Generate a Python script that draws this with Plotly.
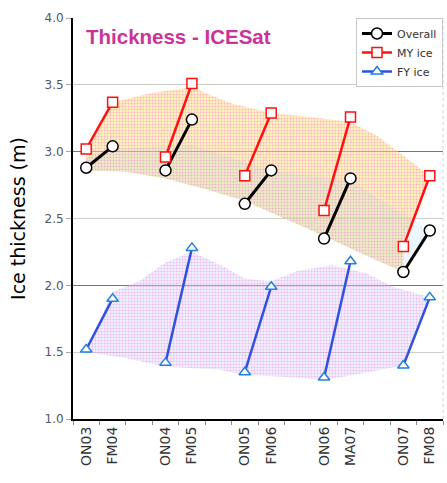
import plotly.graph_objects as go

# ---- data ----
categories = ["ON03", "FM04", "", "ON04", "FM05", "", "ON05", "FM06", "", "ON06", "MA07", "", "ON07", "FM08"]
overall = [2.88, 3.04, None, 2.86, 3.24, None, 2.61, 2.86, None, 2.35, 2.80, None, 2.10, 2.41]
my_ice = [3.02, 3.37, None, 2.96, 3.51, None, 2.82, 3.29, None, 2.56, 3.26, None, 2.29, 2.82]
fy_ice = [1.52, 1.90, None, 1.42, 2.28, None, 1.35, 1.99, None, 1.31, 2.18, None, 1.40, 1.91]

# shaded envelopes: position index, value
my_band_x = [0, 1, 2.5, 4, 5.5, 7, 8.5, 10, 11, 13, 12, 12, 10.5, 9, 7.5, 6, 4.5, 3, 1.5, 0]
my_band_y = [3.02, 3.37, 3.44, 3.48, 3.36, 3.29, 3.26, 3.22, 3.12, 2.82, 2.29, 2.10, 2.23, 2.37, 2.50, 2.63, 2.72, 2.80, 2.85, 2.86]
ov_band_x = [0, 1, 4, 7, 10, 13, 12, 10.5, 9, 7.5, 6, 4.5, 3, 1.5, 0]
ov_band_y = [2.95, 3.02, 3.05, 2.86, 2.78, 2.41, 2.10, 2.23, 2.37, 2.50, 2.63, 2.72, 2.80, 2.85, 2.86]
fy_band_x = [0, 1, 2, 3, 4, 5.2, 6, 7, 8, 9.3, 10.6, 11.6, 13, 12, 10.4, 9, 8, 6, 5, 3, 1.4, 0]
fy_band_y = [1.52, 1.95, 2.03, 2.17, 2.25, 2.14, 2.05, 2.03, 2.11, 2.15, 2.09, 1.99, 1.91, 1.40, 1.34, 1.29, 1.31, 1.33, 1.37, 1.39, 1.46, 1.50]

y_ticks = [1.0, 1.5, 2.0, 2.5, 3.0, 3.5, 4.0]

xs = list(range(len(categories)))
label_x = [i for i, c in enumerate(categories) if c]
label_t = [c for c in categories if c]

fig = go.Figure()

fig.add_trace(go.Scatter(x=fy_band_x, y=fy_band_y, fill="toself", mode="none", showlegend=False,
                         hoverinfo="skip",
                         fillpattern=dict(shape=".", fgcolor="#f080d8", bgcolor="rgba(205,220,255,0.35)",
                                          size=3, solidity=0.35)))
fig.add_trace(go.Scatter(x=my_band_x, y=my_band_y, fill="toself", mode="none", showlegend=False,
                         hoverinfo="skip",
                         fillpattern=dict(shape=".", fgcolor="#ff70d0", bgcolor="rgba(255,235,120,0.5)",
                                          size=3, solidity=0.35)))
fig.add_trace(go.Scatter(x=ov_band_x, y=ov_band_y, fill="toself", mode="none", showlegend=False,
                         hoverinfo="skip", fillcolor="rgba(120,190,240,0.14)"))

fig.add_trace(go.Scatter(x=xs, y=overall, name="Overall", mode="lines+markers",
                         line=dict(color="black", width=3),
                         marker=dict(symbol="circle", size=11, color="white", line=dict(color="black", width=1.5))))
fig.add_trace(go.Scatter(x=xs, y=my_ice, name="MY ice", mode="lines+markers",
                         line=dict(color="#ff1010", width=2.5),
                         marker=dict(symbol="square", size=10, color="white", line=dict(color="#ff1010", width=1.5))))
fig.add_trace(go.Scatter(x=xs, y=fy_ice, name="FY ice", mode="lines+markers",
                         line=dict(color="#3050e0", width=2.5),
                         marker=dict(symbol="triangle-up", size=10, color="white", line=dict(color="#2080e0", width=1.5))))

fig.update_layout(
    width=447, height=483,
    margin=dict(l=73, r=4, t=18, b=64),
    paper_bgcolor="white", plot_bgcolor="white",
    font=dict(family="DejaVu Sans", color="#333"),
    showlegend=True,
    legend=dict(x=1, xanchor="right", y=1, yanchor="top", bgcolor="white",
                bordercolor="#c8c8c8", borderwidth=1, font=dict(size=11, color="#333"),
                itemwidth=30, tracegroupgap=0),
    xaxis=dict(range=[-0.5, 13.5], tickvals=label_x, ticktext=label_t, ticks="",
               tickangle=-90, tickfont=dict(size=14, color="#333"),
               showline=True, linecolor="black", linewidth=2, showgrid=False, zeroline=False,
               minor=dict(tickvals=[i - 0.5 for i in range(len(categories) + 1)], ticks="outside",
                          ticklen=4, tickcolor="#888", showgrid=False)),
    yaxis=dict(range=[1.0, 4.0], tickvals=y_ticks, ticktext=[f"{v:.1f}" for v in y_ticks],
               ticks="outside", ticklen=5, tickcolor="#aaa",
               tickfont=dict(size=12, color="#556"),
               showline=True, linecolor="black", linewidth=2,
               showgrid=True, gridcolor="#c8d0c8", gridwidth=1, zeroline=False,
               title=dict(text="Ice thickness (m)", font=dict(size=19, color="black"), standoff=14)),
    yaxis2=dict(range=[1.0, 4.0], overlaying="y", dtick=1, tick0=1, showticklabels=False,
                showgrid=True, gridcolor="#777", gridwidth=1, zeroline=False, showline=False),
    shapes=[dict(type="line", xref="paper", yref="paper", x0=1, x1=1, y0=0, y1=1,
                 line=dict(color="#c8d8c8", width=1, dash="dot"))],
    annotations=[dict(text="<b>Thickness - ICESat</b>", xref="paper", yref="paper", x=0.03, y=0.955,
                      xanchor="left", yanchor="middle", showarrow=False,
                      font=dict(family="Liberation Sans", size=20.5, color="#cc3399"))],
)
# dummy trace on yaxis2 so the grid shows
fig.add_trace(go.Scatter(x=[None], y=[None], yaxis="y2", showlegend=False))

fig.write_html("out.html")
